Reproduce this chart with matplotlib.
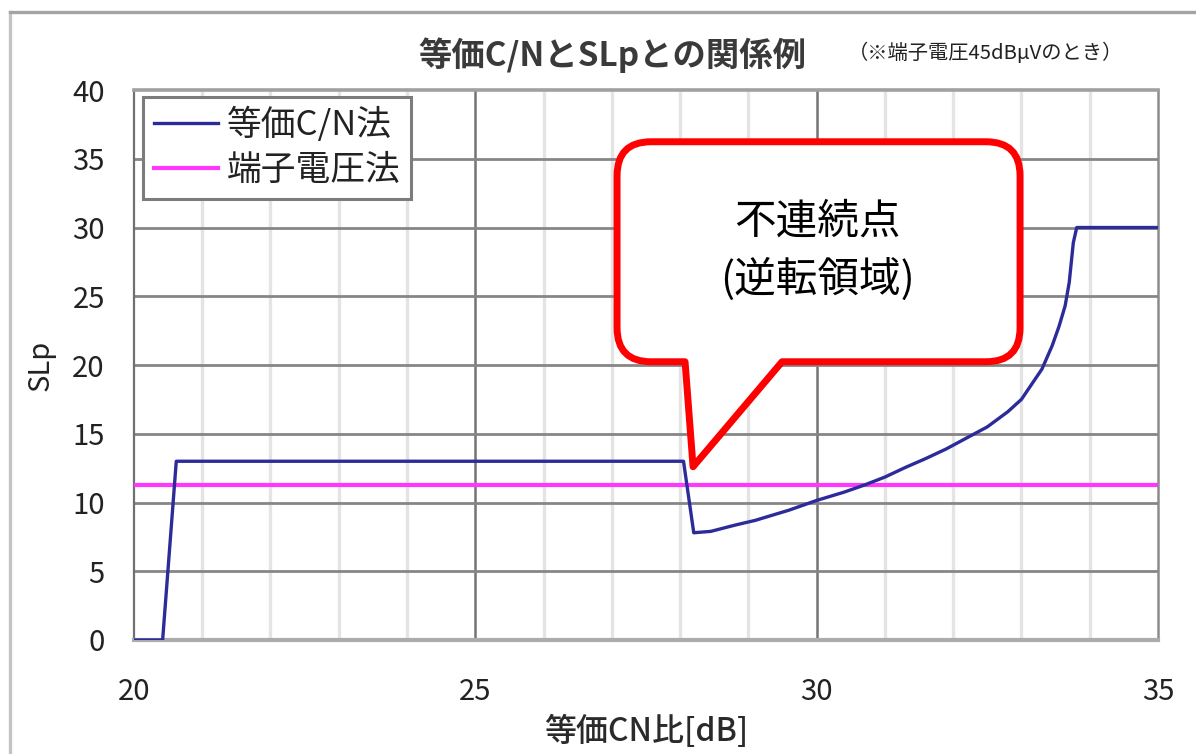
import matplotlib
matplotlib.use('Agg')
import matplotlib.pyplot as plt
from matplotlib.path import Path
from matplotlib.patches import PathPatch
from matplotlib.lines import Line2D
from matplotlib.transforms import ScaledTranslation

plt.rcParams['font.family'] = ['Noto Sans CJK JP', 'DejaVu Sans']

# 等価C/N法 によるSLp
cn = [20.0, 20.42, 20.62, 28.05, 28.2, 28.45, 28.8, 29.1, 29.6, 30.0, 30.4,
      30.7, 31.0, 31.3, 31.6, 31.9, 32.2, 32.5, 32.8, 33.0, 33.15, 33.3,
      33.45, 33.55, 33.64, 33.7, 33.76, 33.81, 35.0]
slp = [0.0, 0.0, 13.0, 13.0, 7.8, 7.9, 8.35, 8.7, 9.45, 10.15, 10.75,
       11.27, 11.85, 12.55, 13.2, 13.9, 14.7, 15.5, 16.6, 17.5, 18.6, 19.7,
       21.4, 22.8, 24.3, 26.0, 28.9, 30.0, 30.0]

# 端子電圧法 (一定値)
terminal_x = [20.0, 35.0]
terminal_slp = [11.3, 11.3]

series_names = ['等価C/N法', '端子電圧法']
x_ticks = [20, 25, 30, 35]
y_ticks = [0, 5, 10, 15, 20, 25, 30, 35, 40]

# 吹き出しの先端 (不連続点)
tip = (28.19, 12.6)

fig = plt.figure(figsize=(11.96, 7.54), dpi=100)
ax = fig.add_axes([0.1120, 0.1512, 0.8562, 0.7294])

ax.set_xlim(20, 35)
ax.set_ylim(0, 40)

# 補助目盛線 (1dBごと)
for xv in range(21, 35):
    if xv % 5:
        ax.axvline(xv, color='#e4e4e4', lw=2.4, zorder=1)
for xv in (25, 30):
    ax.axvline(xv, color='#747474', lw=1.8, zorder=2)
for yv in y_ticks[1:-1]:
    ax.axhline(yv, color='#868686', lw=2.0, zorder=2)

ax.plot(cn, slp, color='#2b2b9a', lw=2.4, zorder=4, label=series_names[0])
ax.plot(terminal_x, terminal_slp, color='#ff38ff', lw=3.0, zorder=3,
        label=series_names[1])

ax.set_xticks(x_ticks)
ax.set_yticks(y_ticks)
ax.tick_params(axis='y', length=0, pad=21, labelsize=21, labelcolor='#222222')
ax.tick_params(axis='x', length=0, pad=27, labelsize=21, labelcolor='#222222')

ax.spines['top'].set_color('#a0a0a0')
ax.spines['top'].set_linewidth(2.6)
ax.spines['bottom'].set_color('#acacac')
ax.spines['bottom'].set_linewidth(3.0)
ax.spines['left'].set_color('#707070')
ax.spines['left'].set_linewidth(1.6)
ax.spines['right'].set_color('#8c8c8c')
ax.spines['right'].set_linewidth(1.8)

ax.set_xlabel('等価CN比[dB]', fontsize=23, fontweight='medium', color='#2a2a2a',
              labelpad=5)
ax.set_ylabel('SLp', fontsize=21, color='#222222', labelpad=12)

leg = ax.legend(loc='upper left', bbox_to_anchor=(0.009, 0.987),
                borderaxespad=0, fontsize=25, fancybox=False,
                handlelength=1.85, handletextpad=0.25, labelspacing=0.3,
                borderpad=0.3, framealpha=1)
leg.get_frame().set_edgecolor('#7c7c7c')
leg.get_frame().set_linewidth(2.2)
for txt in leg.get_texts():
    txt.set_color('#222222')
leg.set_zorder(6)

fig.text(0.512, 0.927, '等価C/NとSLpとの関係例', fontsize=24, fontweight='bold',
         color='#3a3a3a', ha='center', va='center')
fig.text(0.824, 0.929, '（※端子電圧45dBμVのとき）', fontsize=14.6,
         color='#222222', ha='center', va='center')

# 吹き出し (先端からのピクセル単位で形を作る)
px = 1 / 100
left, right, top, bottom = -76, 327, 325, 105
r = 34
tail_l, tail_r = -8, 89
verts = [
    (tail_l, bottom), (0, 0), (tail_r, bottom),
    (right - r, bottom), (right, bottom), (right, bottom + r),
    (right, top - r), (right, top), (right - r, top),
    (left + r, top), (left, top), (left, top - r),
    (left, bottom + r), (left, bottom), (left + r, bottom),
    (tail_l, bottom),
]
codes = [Path.MOVETO, Path.LINETO, Path.LINETO,
         Path.LINETO, Path.CURVE3, Path.CURVE3,
         Path.LINETO, Path.CURVE3, Path.CURVE3,
         Path.LINETO, Path.CURVE3, Path.CURVE3,
         Path.LINETO, Path.CURVE3, Path.CURVE3,
         Path.CLOSEPOLY]
verts = [(vx * px, vy * px) for vx, vy in verts]
bubble_trans = fig.dpi_scale_trans + ScaledTranslation(tip[0], tip[1], ax.transData)
bubble = PathPatch(Path(verts, codes), facecolor='white', edgecolor='#ff0000',
                   lw=5.0, joinstyle='round', transform=bubble_trans,
                   zorder=7, clip_on=False)
ax.add_patch(bubble)
ax.text(124 * px, 245 * px, '不連続点', transform=bubble_trans, fontsize=30,
        ha='center', va='center', color='black', zorder=8)
ax.text(124 * px, 187 * px, '(逆転領域)', transform=bubble_trans, fontsize=30,
        ha='center', va='center', color='black', zorder=8)

# グラフ全体の枠
fig.add_artist(Line2D([10 / 1196, 10 / 1196], [0, 1 - 12 / 754],
                      transform=fig.transFigure, color='#c4c4c4', lw=2.4))
fig.add_artist(Line2D([10 / 1196, 1], [1 - 12 / 754, 1 - 12 / 754],
                      transform=fig.transFigure, color='#a4a4a4', lw=2.4))

fig.savefig('out.png', dpi=100)
